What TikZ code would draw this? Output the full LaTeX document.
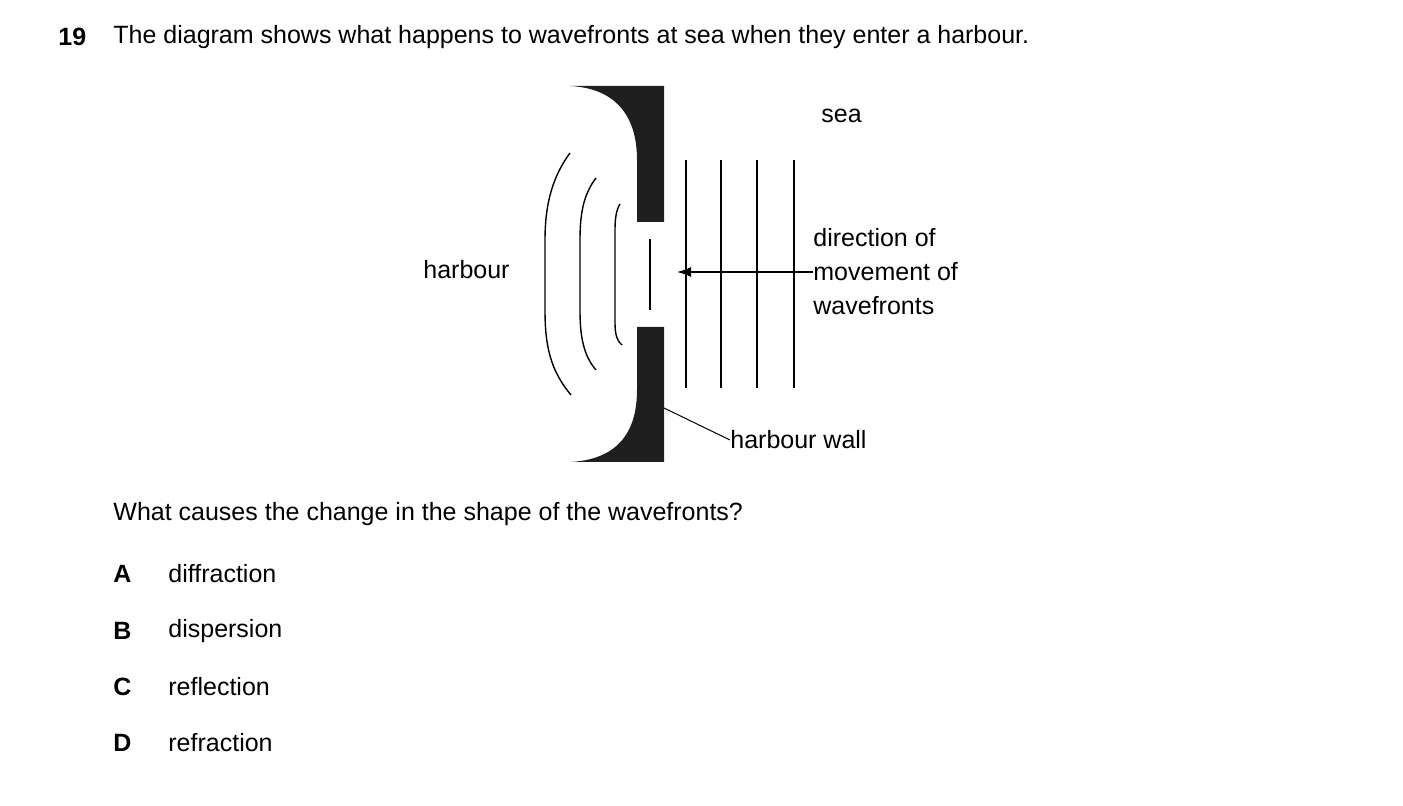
\documentclass[tikz,border=0pt]{standalone}
\usepackage{fontspec}
\setmainfont{Liberation Sans}
\usetikzlibrary{arrows.meta,positioning}
\tikzset{>=latex}
\tikzset{txt/.style={anchor=west,inner sep=0pt,font=\fontsize{12.5}{15}\selectfont},
         wave/.style={line width=0.7pt}}
\begin{document}
\begin{tikzpicture}[x=0.5pt,y=-0.5pt]
            \useasboundingbox (0,0) rectangle (1403,806);
            \node[txt,font=\fontsize{12.5}{15}\selectfont\bfseries] (num) at (58,37) {19};
            \node[txt] (title) at (113,37) {The diagram shows what happens to wavefronts at sea when they enter a harbour.};

            % harbour walls
            \fill[black!88] (570,86) -- (664,86) -- (664,222) -- (637,222) -- (637,160) .. controls (637,110) and (610,88) .. (570,86) -- cycle;
            \fill[black!88] (570,462) -- (664,462) -- (664,327) -- (637,327) -- (637,390) .. controls (637,440) and (610,460) .. (570,462) -- cycle;

            % straight wavefronts
            \foreach \x in {686,721,757,794}
                \draw[wave] (\x,160) -- (\x,388);
            \draw[wave] (650,239) -- (650,310);

            % spreading wavefronts
            \draw[wave] (570,153) .. controls (550,180) and (545,210) .. (545,240) -- (545,310) .. controls (545,345) and (550,370) .. (571,395);
            \draw[wave] (596,178) .. controls (583,195) and (580,215) .. (580,240) -- (580,310) .. controls (580,335) and (583,355) .. (596,370);
            \draw[wave] (620,204) .. controls (616,210) and (615,220) .. (615,230) -- (615,322) .. controls (615,332) and (616,340) .. (622,345);

            \node[txt] (sea) at (821,116) {sea};
            \node[txt] (harbour) at (423,270) {harbour};
            \node[txt,align=left,font=\fontsize{12.5}{17}\selectfont] (dir) at (813,272) {direction of\\movement of\\wavefronts};
            \node[txt] (wall) at (730,440) {harbour wall};
            \coordinate (tip) at (677,272);
            \coordinate (wallpt) at (664,408);
            \draw[wave,-{Latex[length=7pt,width=5pt]}] (dir.west) -- (tip);
            \draw[line width=0.5pt] (wall.west) -- (wallpt);

            \node[txt] (q) at (113,514) {What causes the change in the shape of the wavefronts?};
            \foreach \l/\t/\y [count=\i] in {A/diffraction/574,B/dispersion/631,C/reflection/687,D/refraction/743}{
                \node[txt,font=\fontsize{12.5}{15}\selectfont\bfseries] (let\i) at (113,\y) {\l};
                \node[txt] (opt\i) at (168,\y) {\t};
            }
\end{tikzpicture}
\end{document}
